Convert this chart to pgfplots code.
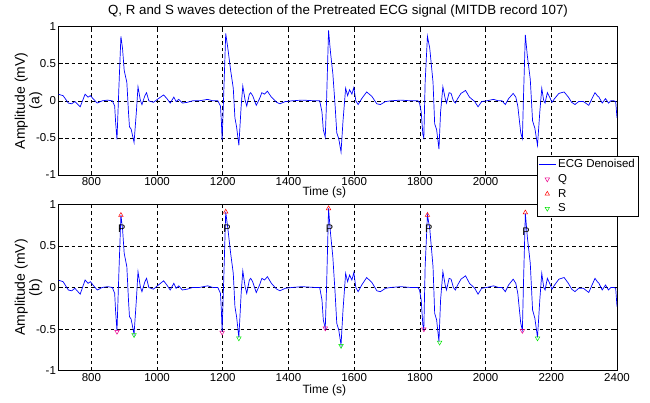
\documentclass[border=0pt]{standalone}
\usepackage{pgfplots}
\pgfplotsset{compat=1.18}
\usepackage{pgfplotstable}
\usepackage{fontspec}
\setmainfont{Liberation Sans}
\pgfplotstableread{
x y
700 0.088
714 0.07
730 -0.03
740 -0.04
750 -0.01
766 -0.08
781 0.09
790 0.05
797 0.07
807 0.02
818 -0.03
833 0
849 0.01
864 0
871 -0.07
874 -0.3
878 -0.52
884 0.2
890 0.87
895 0.70
900 0.41
908 0.25
913 -0.15
916 -0.35
921 -0.38
930 -0.56
937 -0.15
942 0.19
949 0.01
954 -0.05
963 0.07
968 0.11
975 0
989 -0.02
1004 0.03
1020 0.08
1030 0.03
1040 -0.03
1051 0.05
1058 -0.01
1066 0.02
1077 -0.03
1092 -0.02
1108 0
1128 0
1154 0.02
1170 0
1185 0
1193 -0.07
1196 -0.3
1198 -0.53
1203 0.1
1209 0.91
1216 0.69
1224 0.41
1232 0.17
1237 -0.23
1242 -0.35
1249 -0.6
1256 -0.07
1261 0.2
1268 0.01
1273 -0.07
1281 0.09
1285 0.11
1291 0.07
1302 -0.06
1312 0.03
1319 0.11
1327 0.09
1336 0.13
1348 0.05
1364 -0.02
1374 -0.04
1390 -0.01
1410 0
1441 0.01
1483 0
1495 0
1502 -0.15
1506 -0.39
1512 -0.49
1516 0.01
1522 0.95
1528 0.65
1535 0.37
1542 -0.07
1547 -0.43
1553 -0.51
1560 -0.69
1566 -0.27
1574 0.17
1580 0.07
1586 0.15
1593 0.09
1599 0.18
1605 0
1612 -0.05
1623 0.03
1638 0.12
1654 0.06
1669 -0.04
1680 -0.05
1695 -0.01
1711 0
1742 0.01
1773 0
1794 0
1799 -0.03
1804 -0.15
1809 -0.45
1812 -0.5
1816 0.25
1823 0.87
1830 0.71
1840 0.25
1845 -0.31
1851 -0.39
1858 -0.65
1863 -0.15
1870 0.19
1877 0.03
1881 -0.03
1889 0.11
1895 0.10
1902 0
1908 -0.03
1915 0.03
1925 0.10
1939 0.14
1951 0.05
1967 -0.01
1977 -0.08
1988 -0.01
2003 0
2024 0.02
2039 0
2050 0
2060 -0.05
2070 0.03
2084 0.10
2092 0.05
2098 -0.07
2103 -0.27
2107 -0.43
2112 -0.51
2115 0.0
2121 0.89
2127 0.61
2136 0.29
2143 -0.27
2150 -0.37
2158 -0.6
2165 -0.15
2171 0.17
2177 0
2181 -0.03
2188 0.11
2195 0.05
2202 -0.02
2210 0.03
2223 0.10
2239 0.12
2252 0.05
2262 -0.02
2272 -0.05
2283 -0.01
2298 -0.01
2314 -0.06
2324 0.03
2333 0.11
2340 0.07
2345 0.05
2355 -0.03
2365 0.03
2374 -0.03
2381 0
2391 0
2396 -0.01
2400 -0.23
}\ecg
\pgfplotstableread{
x y
878 -0.53
1198 -0.54
1512 -0.49
1812 -0.50
2112 -0.52
}\qpts
\pgfplotstableread{
x y
890 0.87
1209 0.91
1522 0.95
1823 0.87
2121 0.90
}\rpts
\pgfplotstableread{
x y
930 -0.57
1249 -0.61
1560 -0.70
1860 -0.66
2158 -0.61
}\spts
\begin{document}
\begin{tikzpicture}[x=1pt,y=1pt]
\useasboundingbox (0,0) rectangle (650,403);
\pgfplotsset{
  myaxis/.style={
    scale only axis, width=558.5pt,
    xmin=700, xmax=2400, ymin=-1, ymax=1,
    xtick={800,1000,...,2400}, ytick={-1,-0.5,0,0.5,1},
    grid=major,
    major grid style={black, dash pattern=on 3.5pt off 3pt, line width=0.6pt},
    axis line style={black, line width=0.9pt},
    tick style={black, line width=0.6pt},
    major tick length=4pt,
    /pgf/number format/assume math mode=true,
    /pgf/number format/1000 sep={},
    tick label style={font=\fontsize{11.5}{13}\selectfont},
    yticklabel style={/pgf/number format/fixed, xshift=1pt},
    xticklabel style={yshift=1pt},
    every axis y label/.style={at={(axis description cs:-0.0537,0.5)}, rotate=90, anchor=center, align=center, font=\fontsize{14}{14.5}\selectfont},
    every axis x label/.style={at={(axis description cs:0.476,0)}, anchor=center, font=\fontsize{12}{13}\selectfont},
  }
}
\node[font=\fontsize{13.3}{14}\selectfont] at (338,392) {Q, R and S waves detection of the Pretreated ECG signal (MITDB record 107)};
\begin{axis}[myaxis, at={(58.5pt,228pt)}, anchor=south west, height=148.3pt,
  xlabel={Time (s)}, xlabel style={yshift=-17pt},
  ylabel={Amplitude (mV)\\(a)}]
\addplot[blue, line width=0.7pt] table {\ecg};
\end{axis}
\begin{axis}[myaxis, at={(58.5pt,32.3pt)}, anchor=south west, height=166.4pt,
  xlabel={Time (s)}, xlabel style={yshift=-20pt},
  ylabel={Amplitude (mV)\\(b)},
  legend style={at={(1.039,1.293)}, anchor=north east, draw=black, line width=0.8pt, fill=white,
    font=\fontsize{11.5}{13}\selectfont, legend cell align=left, inner sep=1.5pt, row sep=1.2pt},
  legend image post style={line width=0.7pt}]
\addplot[blue, line width=0.7pt] table {\ecg};
\addlegendentry{ECG Denoised}
\addplot[only marks, mark=triangle, mark size=2.6pt, magenta, mark options={rotate=180, line width=0.5pt}] table {\qpts};
\addlegendentry{Q}
\addplot[only marks, mark=triangle, mark size=2.6pt, red, mark options={line width=0.5pt}] table {\rpts};
\addlegendentry{R}
\addplot[only marks, mark=triangle, mark size=2.6pt, green!90!black, mark options={rotate=180, line width=0.5pt}] table {\spts};
\addlegendentry{S}
\node[font=\fontsize{11}{12}\selectfont] at (axis cs:893,0.71) {P};
\node[font=\fontsize{11}{12}\selectfont] at (axis cs:1213,0.71) {P};
\node[font=\fontsize{11}{12}\selectfont] at (axis cs:1525,0.71) {P};
\node[font=\fontsize{11}{12}\selectfont] at (axis cs:1827,0.71) {P};
\node[font=\fontsize{11}{12}\selectfont] at (axis cs:2123,0.67) {P};
\end{axis}
\end{tikzpicture}
\end{document}
